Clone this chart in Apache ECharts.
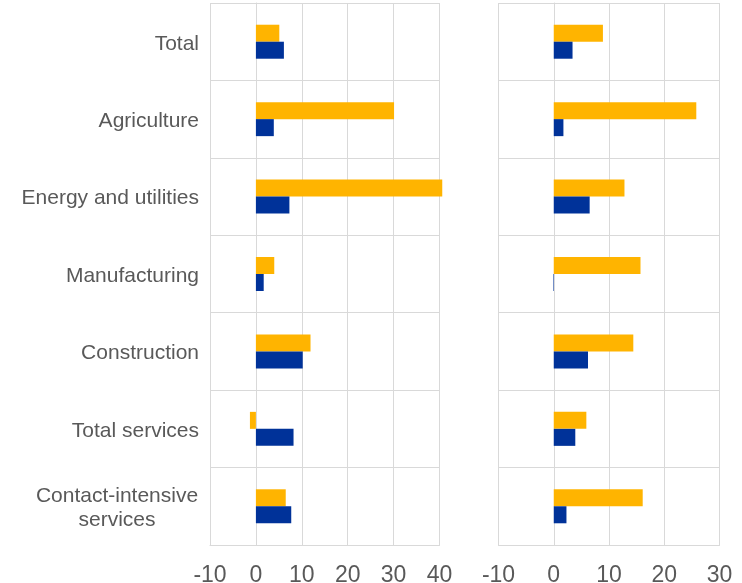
<!DOCTYPE html>
<html>
<head>
<meta charset="utf-8">
<script src="https://cdn.jsdelivr.net/npm/echarts@6/dist/echarts.min.js"></script>
<style>
html,body{margin:0;padding:0;background:#fff;}
#chart{width:742px;height:583px;}
</style>
</head>
<body>
<div id="chart"></div>
<script>
// Categories (top to bottom)
var categories = ['Total', 'Agriculture', 'Energy and utilities', 'Manufacturing', 'Construction', 'Total services', 'Contact-intensive services'];
// Left panel
var leftYellow = [5.1, 30.1, 40.6, 4.0, 11.9, -1.3, 6.5];
var leftBlue   = [6.1, 3.9, 7.3, 1.7, 10.2, 8.2, 7.7];
// Right panel
var rightYellow = [8.9, 25.8, 12.8, 15.7, 14.4, 5.9, 16.1];
var rightBlue   = [3.4, 1.75, 6.5, -0.1, 6.2, 3.9, 2.3];
// Axis ticks
var leftTicks = {min: -10, max: 40, interval: 10};
var rightTicks = {min: -10, max: 30, interval: 10};

var YELLOW = '#FFB400', BLUE = '#003299', GRID = '#D9D9D9', TEXT = '#595959';
var FONT = '"Liberation Sans", Arial, sans-serif';

function xAxis(idx, t) {
  return {
    type: 'value', gridIndex: idx, min: t.min, max: t.max, interval: t.interval,
    axisLine: {show: true, lineStyle: {color: GRID, width: 1}},
    axisTick: {show: false},
    splitLine: {show: true, lineStyle: {color: GRID, width: 1}},
    axisLabel: {color: TEXT, fontSize: 23, fontFamily: FONT, margin: 19}
  };
}
function yAxis(idx, showLabels) {
  return {
    type: 'category', gridIndex: idx, data: categories, inverse: true,
    axisLine: {show: true, lineStyle: {color: GRID, width: 1}},
    axisTick: {show: false},
    splitLine: {show: true, lineStyle: {color: GRID, width: 1}},
    axisLabel: {
      show: showLabels, color: TEXT, fontSize: 21, fontFamily: FONT, margin: 11,
      padding: [4, 0, 0, 0],
      formatter: function (v) {
        if (v === 'Contact-intensive services') return '{c|Contact-intensive}\n{c|services}';
        return v;
      },
      rich: {c: {width: 164, align: 'center', fontSize: 21, fontFamily: FONT, color: TEXT, lineHeight: 24}}
    }
  };
}
function bar(name, data, color, idx) {
  return {
    type: 'bar', name: name, data: data, xAxisIndex: idx, yAxisIndex: idx,
    barWidth: 17, barGap: '0%', clip: false,
    itemStyle: {color: color}
  };
}

var chart = echarts.init(document.getElementById('chart'), null, {renderer: 'canvas'});
chart.setOption({
  animation: false,
  backgroundColor: '#fff',
  grid: [
    {left: 210, top: 3, width: 229.5, height: 542, containLabel: false, outerBoundsMode: 'none'},
    {left: 498.5, top: 3, width: 221, height: 542, containLabel: false, outerBoundsMode: 'none'}
  ],
  xAxis: [xAxis(0, leftTicks), xAxis(1, rightTicks)],
  yAxis: [yAxis(0, true), yAxis(1, false)],
  series: [
    bar('Series 1', leftYellow, YELLOW, 0),
    bar('Series 2', leftBlue, BLUE, 0),
    bar('Series 1', rightYellow, YELLOW, 1),
    bar('Series 2', rightBlue, BLUE, 1)
  ]
});
</script>
</body>
</html>
